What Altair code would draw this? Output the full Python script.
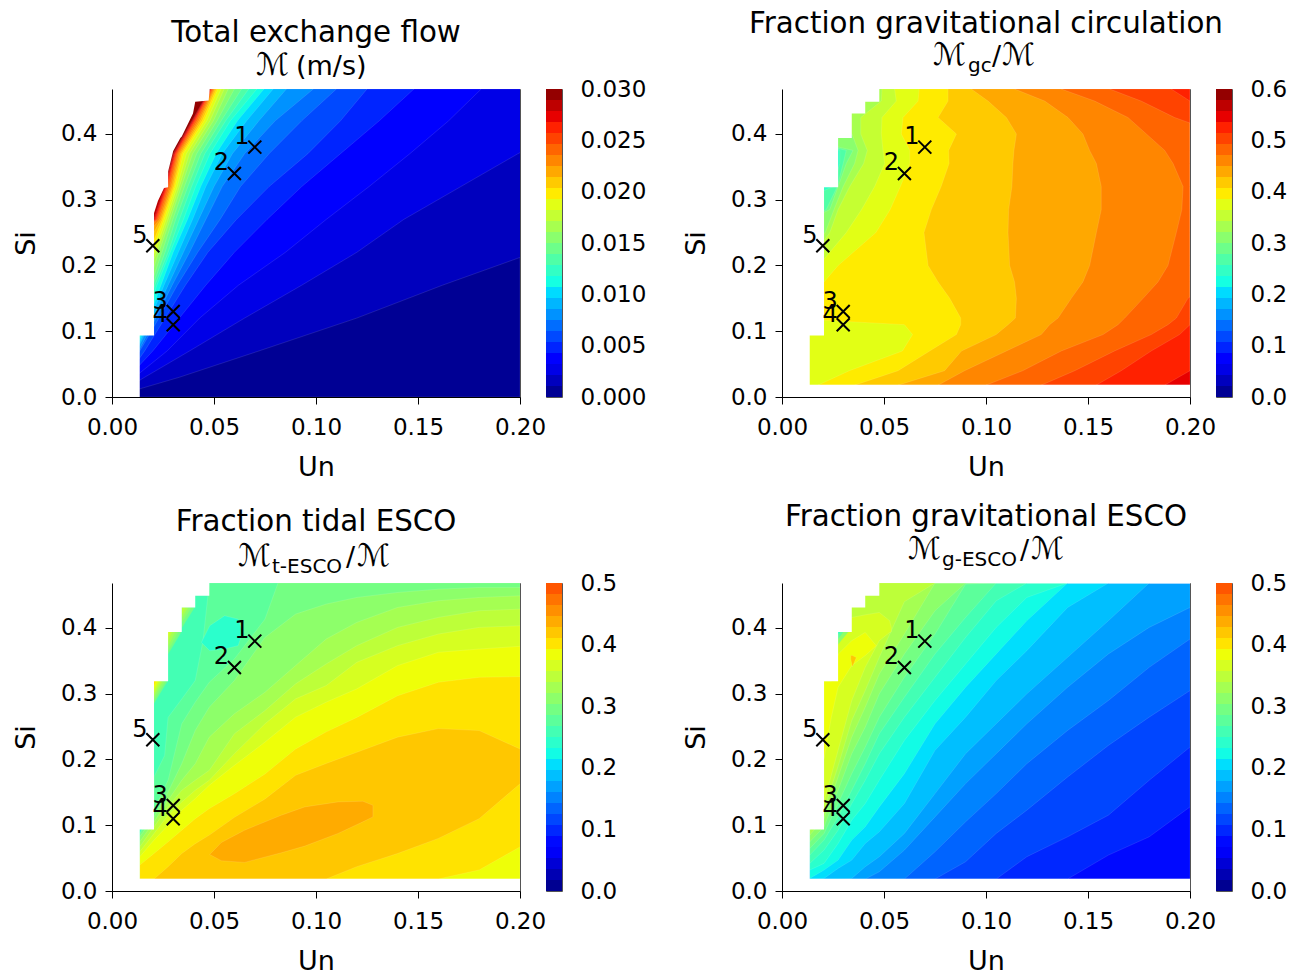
import altair as alt
import pandas as pd

FONT = "DejaVu Sans"
UN_TICKS = [0.0, 0.05, 0.10, 0.15, 0.20]
SI_TICKS = [0.0, 0.1, 0.2, 0.3, 0.4]
SI_TOP = 0.4684
UN_TOP = 0.2
SI_FLOOR = 0.0182
PW, PH = 408, 308

# ---- labelled stations
ST_NAME = ["1", "2", "3", "4", "5"]
ST_UN = [0.07, 0.06, 0.03, 0.03, 0.02]
ST_SI = [0.38, 0.34, 0.13, 0.11, 0.23]

# ---- white parts of the plot where there are no runs: Si range and the Un they reach
STEP_SI_LOW = [0, 0.0155, 0.0934, 0.319, 0.394, 0.431, 0.449]
STEP_SI_TOP = [0.0185, 0.0965, 0.322, 0.397, 0.434, 0.452, 0.4684]
STEP_UN = [0.2, 0.0136, 0.0206, 0.0275, 0.0342, 0.0408, 0.0477]
P1_STEP_SI_LOW = [0, 0.0934]
P1_STEP_SI_TOP = [0.0965, 0.283]
P1_STEP_UN = [0.0136, 0.0206]
P1_EDGE_SI = [0.28, 0.298, 0.318, 0.319, 0.343, 0.374, 0.394, 0.396, 0.431, 0.449, 0.451, 0.4684]
P1_EDGE_UN = [0.0206, 0.0225, 0.0255, 0.0275, 0.0275, 0.030, 0.0335, 0.0342, 0.0397, 0.0408, 0.0474, 0.0479]

# ---- panel 1: Un of each contour, at these Si values
P1_SI = [0, 0.03, 0.07, 0.12, 0.17, 0.22, 0.27, 0.32, 0.37, 0.42, 0.4684]
P1_EDGE = {
    1: [0, .033, .072, .12, .162, .207, .25, .30, .35, .40, .45],
    2: [0, .016, .038, .065, .093, .12, .143, .171, .199, .23, .26],
    3: [0, .011, .027, .043, .062, .085, .105, .126, .146, .165, .181],
    4: [0, .008, .02, .033, .046, .06, .076, .093, .112, .131, .148],
    5: [0, .007, .016, .026, .036, .047, .061, .077, .096, .112, .125],
    6: [0, .006, .0136, .023, .032, .042, .053, .063, .077, .093, .11],
    7: [0, .0055, .013, .0215, .0295, .038, .046, .054, .065, .08, .0987],
    8: [0, .005, .012, .02, .0275, .035, .0425, .05, .059, .072, .0855],
    9: [0, .0045, .0115, .019, .0255, .0325, .0395, .046, .054, .066, .079],
    10: [0, .004, .011, .018, .024, .03, .037, .0435, .051, .0615, .0745],
    11: [0, 0, .0105, .0165, .022, .0285, .035, .041, .048, .058, .071],
    12: [0, 0, .01, .015, .021, .0275, .033, .039, .0455, .0557, .067],
    13: [0, 0, 0, .0125, .02, .026, .0312, .0372, .0435, .0535, .0635],
    14: [0, 0, 0, .01, .019, .0245, .0298, .0355, .0415, .0515, .06],
    15: [0, 0, 0, 0, .0175, .023, .0285, .034, .0395, .0497, .057],
    16: [0, 0, 0, 0, .015, .022, .0275, .033, .038, .048, .055],
    17: [0, 0, 0, 0, .01, .021, .0265, .032, .0365, .0465, .0535],
    18: [0, 0, 0, 0, 0, .0195, .0255, .031, .035, .0452, .052],
    19: [0, 0, 0, 0, 0, .018, .0247, .0303, .0342, .0442, .0512],
    20: [0, 0, 0, 0, 0, .015, .024, .0296, .0335, .0433, .0505],
    21: [0, 0, 0, 0, 0, .01, .0233, .0289, .0328, .0425, .05],
    22: [0, 0, 0, 0, 0, 0, .0226, .0282, .0322, .0417, .0495],
    23: [0, 0, 0, 0, 0, 0, .022, .0275, .0317, .041, .049],
    24: [0, 0, 0, 0, 0, 0, .0215, .027, .0312, .0405, .0487],
    25: [0, 0, 0, 0, 0, 0, .021, .0265, .0308, .04, .0484],
    26: [0, 0, 0, 0, 0, 0, .0205, .026, .0304, .0396, .0482],
    27: [0, 0, 0, 0, 0, 0, 0, .0257, .03, .0392, .048],
}

# ---- panel 2: Un of each contour, at these Si values
P2_SI = [.018, .04, .07, .095, .11, .12, .15, .175, .2, .25, .285, .32, .355, .375, .4, .425, .45, .4684]
P2_EDGE = {
    12: [0, 0, 0, 0, 0, 0, 0, 0, 0, 0, 0, .025, .0283, .0283, 0, 0, 0, 0],
    13: [0, 0, 0, 0, 0, 0, 0, 0, 0, 0, .0217, .0271, .03, .0315, 0, 0, 0, 0],
    14: [0, 0, 0, 0, 0, 0, 0, 0, 0, 0, .0234, .0275, .0315, .0348, 0, 0, 0, 0],
    15: [0, 0, 0, 0, 0, 0, 0, 0, 0, .0212, .0255, .03, .0356, .0373, .0343, 0, 0, 0],
    16: [0, 0, 0, 0, 0, 0, 0, 0, .012, .0234, .0275, .0332, .04, .0418, .0386, .0386, .0487, .049],
    17: [0, 0, 0, 0, 0, 0, 0, 0, .018, .0315, .039, .0454, .0503, .0495, .0487, .049, .056, .0552],
    18: [.0176, .033, .059, .064, .06, 0, 0, .0206, .0275, .046, .053, .058, .0626, .0626, .0585, .0593, .0667, .0672],
    19: [.0356, .0569, .0724, .0855, .0876, .0876, .0822, .0765, .0716, .0696, .0732, .078, .0819, .0817, .0855, .0765, .0814, .0814],
    20: [.0569, .0797, .088, .105, .1108, .1144, .1149, .114, .1116, .1108, .1111, .1127, .1132, .1137, .1149, .11, .101, .0928],
    21: [.0765, .0895, .11, .1271, .1312, .1353, .1418, .1475, .1508, .1541, .1565, .1565, .1541, .1508, .1475, .1402, .1288, .114],
    22: [.10, .118, .1369, .1574, .1647, .168, .177, .1843, .1892, .1933, .196, .1966, .1917, .1876, .1786, .1696, .1533, .1369],
    23: [.1271, .1435, .163, .181, .1892, .1933, .199, .21, .25, .25, .25, .25, .25, .25, .215, .1925, .1761, .1606],
    24: [.154, .1663, .181, .1949, .2, .21, .25, .25, .25, .25, .25, .25, .25, .25, .25, .22, .2, .1908],
    25: [.1876, .2, .25, .25, .25, .25, .25, .25, .25, .25, .25, .25, .25, .25, .25, .25, .25, .25],
}

# ---- panels 3 and 4: Si of each contour, at these Un values
COL_UN = [.0136, .0206, .0275, .0342, .0408, .0477, .06, .075, .09, .105, .12, .14, .16, .18, .2]

P3_TOP = {
    17: [.0824, .1127, .1507, .1936, .2442, .2796, .32, .3857, .4211, .4363, .4464, .454, .459, .4616, .4616],
    18: [.0748, .1052, .138, .1684, .1936, .2341, .2695, .3023, .3428, .3832, .4085, .4312, .4414, .4464, .4489],
    19: [.0672, .0976, .1279, .1532, .1684, .1835, .2391, .2745, .315, .3453, .3731, .4009, .4161, .4262, .4287],
    20: [.0597, .0875, .1153, .1355, .1532, .1684, .2088, .2543, .2922, .3124, .3478, .3731, .3908, .4009, .4034],
    21: [.052, .0774, .1001, .1229, .1405, .1608, .1911, .2265, .2644, .2872, .3074, .3428, .363, .368, .3721],
    22: [.0394, .0571, .0748, .0925, .11, .1254, .148, .178, .216, .242, .264, .297, .3175, .325, .326],
}
P3_LOW22 = [.0182, .0182, .0182, .0182, .0182, .0182, .0182, .0182, .0182, .0182, .0182, .0182, .0182, .032, .067]
P3_TOP23 = [.0182, .0182, .037, .057, .072, .085, .112, .14, .176, .194, .211, .234, .247, .244, .216]
P3_LOW23 = [.0182, .0182, .0182, .0182, .0182, .0182, .0182, .0182, .0182, .0182, .037, .057, .08, .11, .163]
P3_B15_UN = [.0206, .0258, .0275, .0342, .0408, .0446, .0477, .2]
P3_B15_TOP = [.1735, .206, .264, .292, .32, .38, .4684, .4684]
P3_ISLE_UN = [.0438, .0479, .0552, .0618, .0642]
P3_ISLE_TOP = [.378, .4034, .4186, .4135, .394]
P3_ISLE_LOW = [.378, .3655, .368, .3731, .394]
P3_B16_UN = [.0136, .0206, .0275, .0342, .0408, .0477, .06, .075, .08, .0814, .2]
P3_B16_TOP = [.0875, .1229, .1684, .2543, .2872, .3175, .3529, .4135, .4565, .4684, .4684]
P3_B24_UN = [.0479, .0536, .065, .083, .0945, .1108, .123, .1279]
P3_B24_TOP = [.0556, .0738, .0925, .1153, .1279, .1355, .1365, .1304]
P3_B24_LOW = [.0556, .046, .0435, .0581, .0683, .0875, .1052, .1127]
# wedges of rising values along the steps of the white area: colour index, Un reached, Si at the step's corner
P3_WEDGE1 = {"left": .0206, "top": .319, "band": [16, 17, 18, 19, 20, 21, 22],
              "un": [.0272, .0262, .025, .0242, .0232, .0225, .0215], "si": [.285, .29, .295, .30, .304, .309, .313]}
P3_WEDGE2 = {"left": .0275, "top": .394, "band": [16, 17, 18, 19, 20],
              "un": [.034, .0325, .031, .0295, .0285], "si": [.36, .365, .372, .38, .386]}
P3_WEDGE3 = {"left": .0342, "top": .431, "band": [16, 17, 18, 19],
              "un": [.0405, .039, .0375, .036], "si": [.40, .408, .415, .42]}

P4_LOW = {
    5: [.0182, .0182, .0182, .0182, .0182, .0182, .0182, .0182, .0182, .0182, .0182, .0182, .0546, .0824, .1279],
    6: [.0182, .0182, .0182, .0182, .0182, .0182, .0182, .0182, .0182, .0182, .0521, .0824, .1153, .1684, .2189],
    7: [.0182, .0182, .0182, .0182, .0182, .0182, .0182, .0182, .0445, .0875, .1229, .1734, .2214, .2644, .3048],
    8: [.0182, .0182, .0182, .0182, .0182, .0182, .0182, .0597, .1052, .1481, .1936, .2442, .2897, .3402, .3832],
    9: [.0182, .0182, .0182, .0182, .0182, .0293, .0622, .1127, .1633, .2088, .2543, .3099, .3605, .4009, .4312],
    10: [.0182, .0182, .0182, .0192, .0369, .0521, .0875, .1481, .2088, .2543, .2998, .3554, .411, .4684, .4684],
    11: [.0182, .0192, .0344, .047, .0723, .09, .133, .2139, .2644, .32, .3655, .4312, .4684, .4684, .4684],
    12: [.0192, .0319, .047, .0774, .0976, .1279, .1785, .2543, .3099, .3605, .411, .4684, .4684, .4684, .4684],
    13: [.0319, .042, .0723, .1077, .133, .1684, .229, .2897, .3453, .4009, .4464, .4684, .4684, .4684, .4684],
    14: [.042, .0622, .0925, .133, .1684, .2088, .2644, .3251, .3857, .4413, .4684, .4684, .4684, .4684, .4684],
    15: [.0546, .0774, .1127, .1532, .1936, .2391, .2947, .3605, .4161, .4684, .4684, .4684, .4684, .4684, .4684],
    16: [.0647, .0875, .133, .1785, .2189, .2644, .3251, .3908, .4666, .4684, .4684, .4684, .4684, .4684, .4684],
    17: [.0748, .0976, .1532, .2088, .2492, .2998, .3605, .4262, .4684, .4684, .4684, .4684, .4684, .4684, .4684],
    18: [.0849, .1102, .1734, .2341, .2796, .3301, .3908, .4684, .4684, .4684, .4684, .4684, .4684, .4684, .4684],
    19: [.0925, .1229, .19, .2593, .3048, .3554, .44, .4684, .4684, .4684, .4684, .4684, .4684, .4684, .4684],
}
P4_B20_UN = [.0206, .0275, .0342, .0408, .0477, .0528, .0536]
P4_B20_LOW = [.1355, .2139, .2897, .3402, .3807, .3933, .394]
P4_B20_TOP = [.319, .39, .416, .42, .4236, .411, .40]
P4_B21_UN = [.0206, .0242, .0275, .0342, .0408, .0462]
P4_B21_LOW = [.2012, .2644, .31, .3428, .358, .3731]
P4_B21_TOP = [.319, .319, .36, .3807, .3933, .3731]
P4_B23_UN = [.0337, .0345, .0364]
P4_B23_LOW = [.353, .341, .355]
P4_B23_TOP = [.358, .358, .355]
P4_WEDGE = {"left": .0275, "top": .394, "band": [17, 15, 13], "un": [.0325, .03, .0285], "si": [.375, .383, .39]}


def jet(t):
    def seg(points):
        for (a, va), (b, vb) in zip(points, points[1:]):
            if t <= b:
                return va + (vb - va) * (t - a) / (b - a)
        return points[-1][1]
    r = seg([(0, 0), (.35, 0), (.66, 1), (.89, 1), (1, .5)])
    g = seg([(0, 0), (.125, 0), (.375, 1), (.64, 1), (.91, 0), (1, 0)])
    b = seg([(0, .5), (.11, 1), (.34, 1), (.65, 0), (1, 0)])
    return "#%02x%02x%02x" % (round(r * 255), round(g * 255), round(b * 255))


WIDE = [jet((i + .5) / 28) for i in range(28)]           # scale fills the whole colormap
NARROW = [jet((i + .5) / 28 * .5 / .6) for i in range(28)]  # scale stops at 5/6 of it

AXIS_STYLE = dict(grid=False, tickSize=7, tickColor="#000", domainColor="#000", labelFont=FONT, titleFont=FONT,
                  labelFontSize=23, titleFontSize=27, labelColor="#000", titleColor="#000",
                  titleFontWeight="normal", labelFlush=False, zindex=2)
XA = alt.Axis(values=UN_TICKS, format=".2f", title="Un", labelPadding=12, titlePadding=15, **AXIS_STYLE)
YA = alt.Axis(values=SI_TICKS, format=".1f", title="Si", labelPadding=8, titlePadding=20, **AXIS_STYLE)
XS = alt.Scale(domain=[0, UN_TOP], nice=False, zero=False, padding=0)
YS = alt.Scale(domain=[0, SI_TOP], nice=False, zero=False, padding=0)


def rows(color, axis, low, high):
    return [{"c": color, "a": a, "lo": l, "hi": h} for a, l, h in zip(axis, low, high)]


def chart_bands(table, orient):
    df = pd.DataFrame(table)
    color = alt.Color("c:N", legend=None, scale=None)
    mark = alt.Chart(df).mark_area(clip=True, orient=orient, stroke="white", strokeOpacity=.18, strokeWidth=.6)
    if orient == "horizontal":
        return mark.encode(y=alt.Y("a:Q", scale=YS, axis=YA), x=alt.X("lo:Q", scale=XS, axis=XA, stack=None), x2="hi:Q", color=color)
    return mark.encode(x=alt.X("a:Q", scale=XS, axis=XA), y=alt.Y("lo:Q", scale=YS, axis=YA, stack=None), y2="hi:Q", color=color)


def chart_wedge(w, palette):
    table = []
    for b, u, s in zip(w["band"], w["un"], w["si"]):
        table += rows(palette[b], [w["left"], u], [s, w["top"]], [w["top"], w["top"]])
    return alt.Chart(pd.DataFrame(table)).mark_area(clip=True).encode(
        x=alt.X("a:Q", scale=XS, axis=XA), y=alt.Y("lo:Q", scale=YS, axis=YA, stack=None), y2="hi:Q",
        color=alt.Color("c:N", legend=None, scale=None))


def chart_steps(si_low, si_top, un):
    df = pd.DataFrame({"s0": si_low, "s1": si_top, "u": un, "z": [0] * len(un)})
    return alt.Chart(df).mark_rect(color="white", clip=True).encode(
        y=alt.Y("s0:Q", scale=YS, axis=YA, stack=None), y2="s1:Q",
        x=alt.X("z:Q", scale=XS, axis=XA, stack=None), x2="u:Q",
    )


def chart_curve_mask(si, un):
    df = pd.DataFrame({"si": si, "un": un, "z": [0] * len(si)})
    return alt.Chart(df).mark_area(orient="horizontal", color="white", clip=True).encode(
        y=alt.Y("si:Q", scale=YS, axis=YA),
        x=alt.X("z:Q", scale=XS, axis=XA, stack=None),
        x2="un:Q",
    )


stations = pd.DataFrame({"n": ST_NAME, "un": ST_UN, "si": ST_SI})
sx = alt.X("un:Q", scale=XS, axis=XA)
sy = alt.Y("si:Q", scale=YS, axis=YA)
st_marks = alt.Chart(stations).mark_point(shape="M-1,-1L1,1M-1,1L1,-1", size=169, strokeWidth=2, color="#000", opacity=1, filled=False).encode(x=sx, y=sy)
st_text = alt.Chart(stations).mark_text(font=FONT, fontSize=24, dx=-13, dy=-10, color="#000").encode(x=sx, y=sy, text="n:N")

one = alt.Data(values=[{"k": 0}])


def piece(text, x, y, size, align="left"):
    return alt.Chart(one).mark_text(font=FONT, fontSize=size, align=align, baseline="alphabetic", color="#000").encode(
        x=alt.value(x), y=alt.value(y), text=alt.value(text))


def titles(line, y1, y2, parts):
    out = [piece(line, PW / 2, y1, 29.3, "center")]
    for text, x, dy, size in parts:
        out.append(piece(text, x, y2 + dy, size))
    return out


def colorbar(top, ticks, fmt, colors):
    n = len(colors)
    df = pd.DataFrame({"lo": [top * i / n for i in range(n)], "hi": [top * (i + 1) / n for i in range(n)], "c": colors})
    return alt.Chart(df).mark_rect().encode(
        x=alt.value(0), x2=alt.value(16),
        y=alt.Y("lo:Q", scale=alt.Scale(domain=[0, top], nice=False, padding=0),
                axis=alt.Axis(orient="right", values=ticks, format=fmt, title=None, domain=False, ticks=False, grid=False,
                              labelFont=FONT, labelFontSize=23, labelColor="#000", labelPadding=18, labelFlush=False)),
        y2="hi:Q", color=alt.Color("c:N", scale=None),
    ).properties(width=16, height=PH)


def panel(layers):
    return alt.layer(*layers).properties(width=PW, height=PH)


def spacer():
    return alt.Chart(one).mark_point(opacity=0).encode(x=alt.value(0), y=alt.value(0)).properties(
        width=168, height=PH, view=alt.ViewConfig(stroke=None))


MASKS = [chart_steps(STEP_SI_LOW, STEP_SI_TOP, STEP_UN)]

# panel 1
t = rows(WIDE[0], [0, SI_TOP], [0, 0], [UN_TOP, UN_TOP])
for i, e in P1_EDGE.items():
    t += rows(WIDE[i], P1_SI, [0] * len(P1_SI), e)
p1 = panel([chart_bands(t, "horizontal"), chart_steps(P1_STEP_SI_LOW, P1_STEP_SI_TOP, P1_STEP_UN),
            chart_curve_mask(P1_EDGE_SI, P1_EDGE_UN), st_marks, st_text]
           + titles("Total exchange flow", -47, -14, [("ℳ", 144, 0, 31), ("(m/s)", 184, 0, 27)]))

# panel 2
t = rows(WIDE[11], [SI_FLOOR, SI_TOP], [0, 0], [UN_TOP, UN_TOP])
for i, e in P2_EDGE.items():
    t += rows(WIDE[i], P2_SI, e, [UN_TOP] * len(P2_SI))
p2 = panel([chart_bands(t, "horizontal")] + MASKS + [st_marks, st_text]
           + titles("Fraction gravitational circulation", -56, -24,
                    [("ℳ", 151, 0, 31), ("gc", 186, 7, 20), ("/", 210, 0, 27), ("ℳ", 220, 0, 31)]))

# panel 3
n = len(COL_UN)
t = rows(NARROW[14], [0, UN_TOP], [SI_FLOOR, SI_FLOOR], [SI_TOP, SI_TOP])
t += rows(NARROW[15], P3_B15_UN, [SI_FLOOR] * len(P3_B15_UN), P3_B15_TOP)
t += rows(NARROW[13], P3_ISLE_UN, P3_ISLE_LOW, P3_ISLE_TOP)
t += rows(NARROW[16], P3_B16_UN, [SI_FLOOR] * len(P3_B16_UN), P3_B16_TOP)
for i in [17, 18, 19, 20, 21]:
    t += rows(NARROW[i], COL_UN, [SI_FLOOR] * n, P3_TOP[i])
t += rows(NARROW[22], COL_UN, P3_LOW22, P3_TOP[22])
t += rows(NARROW[23], COL_UN, P3_LOW23, P3_TOP23)
t += rows(NARROW[24], P3_B24_UN, P3_B24_LOW, P3_B24_TOP)
p3 = panel([chart_bands(t, "vertical"), chart_wedge(P3_WEDGE1, NARROW), chart_wedge(P3_WEDGE2, NARROW), chart_wedge(P3_WEDGE3, NARROW)]
           + MASKS + [st_marks, st_text]
           + titles("Fraction tidal ESCO", -52, -17,
                    [("ℳ", 126, 0, 31), ("t-ESCO", 160, 7, 20), ("/", 234, 0, 27), ("ℳ", 245, 0, 31)]))

# panel 4
t = rows(NARROW[4], [0, UN_TOP], [SI_FLOOR, SI_FLOOR], [SI_TOP, SI_TOP])
for i, e in P4_LOW.items():
    t += rows(NARROW[i], COL_UN, e, [SI_TOP] * n)
t += rows(NARROW[20], P4_B20_UN, P4_B20_LOW, P4_B20_TOP)
t += rows(NARROW[21], P4_B21_UN, P4_B21_LOW, P4_B21_TOP)
t += rows(NARROW[23], P4_B23_UN, P4_B23_LOW, P4_B23_TOP)
p4 = panel([chart_bands(t, "vertical"), chart_wedge(P4_WEDGE, NARROW)] + MASKS + [st_marks, st_text]
           + titles("Fraction gravitational ESCO", -57, -24,
                    [("ℳ", 126, 0, 31), ("g-ESCO", 160, 7, 20), ("/", 238, 0, 27), ("ℳ", 249, 0, 31)]))

bar1 = colorbar(.03, [0, .005, .01, .015, .02, .025, .03], ".3f", WIDE)
bar2 = colorbar(.6, [0, .1, .2, .3, .4, .5, .6], ".1f", WIDE)
bar3 = colorbar(.5, [0, .1, .2, .3, .4, .5], ".1f", NARROW)
bar4 = colorbar(.5, [0, .1, .2, .3, .4, .5], ".1f", NARROW)

chart = alt.concat(p1, bar1, spacer(), p2, bar2, p3, bar3, spacer(), p4, bar4, columns=5,
                   spacing={"column": 26, "row": 186},
                   bounds="flush").configure_view(stroke="#555", strokeWidth=1).properties(
    padding={"left": 3, "right": 0, "top": 1, "bottom": 0})
chart.save("out.html", embed_options={"renderer": "svg", "actions": False})
